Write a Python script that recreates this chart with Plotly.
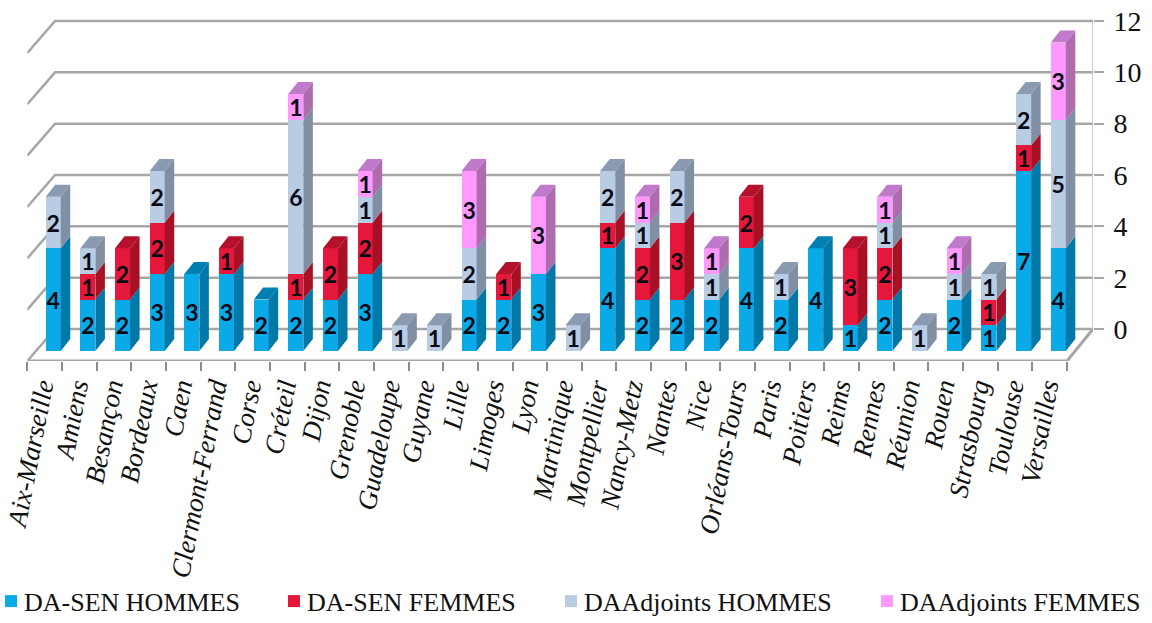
import plotly.graph_objects as go

categories = ["Aix-Marseille", "Amiens", "Besançon", "Bordeaux", "Caen", "Clermont-Ferrand", "Corse", "Créteil",
              "Dijon", "Grenoble", "Guadeloupe", "Guyane", "Lille", "Limoges", "Lyon", "Martinique", "Montpellier",
              "Nancy-Metz", "Nantes", "Nice", "Orléans-Tours", "Paris", "Poitiers", "Reims", "Rennes", "Réunion",
              "Rouen", "Strasbourg", "Toulouse", "Versailles"]
da_sen_hommes = [4, 2, 2, 3, 3, 3, 2, 2, 2, 3, 0, 0, 2, 2, 3, 0, 4, 2, 2, 2, 4, 2, 4, 1, 2, 0, 2, 1, 7, 4]
da_sen_femmes = [0, 1, 2, 2, 0, 1, 0, 1, 2, 2, 0, 0, 0, 1, 0, 0, 1, 2, 3, 0, 2, 0, 0, 3, 2, 0, 0, 1, 1, 0]
daadj_hommes = [2, 1, 0, 2, 0, 0, 0, 6, 0, 1, 1, 1, 2, 0, 0, 1, 2, 1, 2, 1, 0, 1, 0, 0, 1, 1, 1, 1, 2, 5]
daadj_femmes = [0, 0, 0, 0, 0, 0, 0, 1, 0, 1, 0, 0, 3, 0, 3, 0, 0, 1, 0, 1, 0, 0, 0, 0, 1, 0, 1, 0, 0, 3]
y_ticks = [0, 2, 4, 6, 8, 10, 12]

series = [
    ("DA-SEN HOMMES", da_sen_hommes, "#0AAAE8", "#0078A8", "#0080B2"),
    ("DA-SEN FEMMES", da_sen_femmes, "#E5173A", "#A81026", "#B4122C"),
    ("DAAdjoints HOMMES", daadj_hommes, "#B8CCE4", "#808FA3", "#8A9AB0"),
    ("DAAdjoints FEMMES", daadj_femmes, "#FF99FF", "#AE6BAE", "#BF7ACC"),
]

# projection constants (axis units)
SLOT_L, SLOT_R, WALL_R = -0.5, 29.5, 30.25
BACK_L = 0.3
FRONT_DY = 1.245
BAR_W, BAR_SHIFT = 0.433, 0.248
DX, DY = 0.275, 0.467
LABEL_SHIFT = -0.12
GRID = "#A6A6A6"
X = list(range(len(categories)))
fig = go.Figure()

# back wall, left wall, floor
for k in y_ticks:
    fig.add_trace(go.Scatter(x=[SLOT_L, BACK_L, WALL_R], y=[k - FRONT_DY, k, k], mode="lines", xaxis="x", yaxis="y",
                             line=dict(color=GRID, width=2.5), showlegend=False, hoverinfo="skip", cliponaxis=False))
fig.add_trace(go.Scatter(x=[SLOT_L, SLOT_R, WALL_R], y=[-FRONT_DY, -FRONT_DY, 0], mode="lines", xaxis="x", yaxis="y",
                         line=dict(color=GRID, width=3), showlegend=False, hoverinfo="skip", cliponaxis=False))
fig.add_trace(go.Scatter(x=[WALL_R, WALL_R], y=[0, 12], mode="lines", xaxis="x", yaxis="y",
                         line=dict(color="#BFBFBF", width=1.5), showlegend=False, hoverinfo="skip", cliponaxis=False))

# front faces
for name, vals, front, side, top in series:
    fig.add_trace(go.Bar(x=X, y=[v if v else None for v in vals], name=name, xaxis="x", yaxis="y2",
                         width=BAR_W, offset=BAR_SHIFT - BAR_W / 2, marker=dict(color=front, line=dict(width=0)),
                         text=[str(v) if v else "" for v in vals], textposition="inside", insidetextanchor="middle",
                         textangle=0, constraintext="none",
                         textfont=dict(family="Lato", size=23, color="#0A0A14", weight="bold"),
                         hoverinfo="skip"))

# side and top faces, from the stacked values
totals = [0] * len(categories)
highest = [sum(s[1][i] for s in series) for i in range(len(categories))]
for name, vals, front, side, top in series:
    sx, sy, tx, ty = [], [], [], []
    for i, v in enumerate(vals):
        if not v:
            continue
        b, t = totals[i], totals[i] + v
        xl = i + BAR_SHIFT - BAR_W / 2
        xr = i + BAR_SHIFT + BAR_W / 2
        sx += [xr, xr + DX, xr + DX, xr, xr, None]
        sy += [b, b + DY, t + DY, t, b, None]
        if t == highest[i]:
            tx += [xl, xr, xr + DX, xl + DX, xl, None]
            ty += [t, t, t + DY, t + DY, t, None]
        totals[i] = t
    for px, py, color in ((sx, sy, side), (tx, ty, top)):
        fig.add_trace(go.Scatter(x=px, y=py, mode="lines", fill="toself", fillcolor=color, xaxis="x", yaxis="y2",
                                 line=dict(width=0), showlegend=False, hoverinfo="skip"))

dom = [1 - 361 / 623, 1 - 10 / 623]
serif = "Liberation Serif"
fig.update_layout(
    width=1152, height=623, margin=dict(l=0, r=0, t=0, b=0, autoexpand=False), paper_bgcolor="white",
    plot_bgcolor="rgba(0,0,0,0)", barmode="stack", showlegend=True, autosize=False,
    xaxis=dict(domain=[27.3 / 1152, 1093 / 1152], range=[SLOT_L, WALL_R], tickmode="array",
               tickvals=[i + LABEL_SHIFT for i in X], ticktext=categories,
               tickangle=-79, ticks="", showgrid=False, zeroline=False, showline=False, anchor="y", ticklabelstandoff=4,
               ticklabeloverflow="allow", automargin=False,
               tickfont=dict(family=serif, size=27, style="italic", color="#111111"),
               minor=dict(tickmode="array", tickvals=[SLOT_L + i for i in range(31)], ticks="outside", ticklen=9,
                          tickcolor="#8C8C8C", tickwidth=1.5, showgrid=False)),
    yaxis=dict(domain=dom, range=[-FRONT_DY, 12 + (329 - 308 - 10) / 25.7], side="right", anchor="x", tickmode="array",
               tickvals=y_ticks, ticks="outside", ticklen=10, tickcolor="#A6A6A6", tickwidth=1.5, showgrid=False,
               automargin=False, zeroline=False, showline=False, ticklabelstandoff=4,
               tickfont=dict(family=serif, size=28, color="#111111")),
    yaxis2=dict(domain=dom, range=[-10 / 25.7, (351 - 10) / 25.7], anchor="x", visible=False, automargin=False),
    legend=dict(orientation="h", x=0, xanchor="left", y=0.035, yanchor="middle", traceorder="normal",
                font=dict(family=serif, size=26, color="#111111"), bgcolor="rgba(0,0,0,0)"),
)

post = """
document.body.style.margin = '0';
var sb = document.querySelector('.legend .scrollbox');
if (sb) { sb.removeAttribute('clip-path'); }
var starts = [-9, 274, 551, 867];
document.querySelectorAll('.legend .traces').forEach(function (t, i) {
  var m = /translate\\(([^,]+),\\s*([^)]+)\\)/.exec(t.getAttribute('transform'));
  t.setAttribute('transform', 'translate(' + starts[i] + ',' + (m ? m[2] : 0) + ')');
  var tx = t.querySelector('.legendtext');
  if (tx) { tx.setAttribute('x', 33); }
});
"""
fig.write_html("out.html", post_script=post, config={"displayModeBar": False})
